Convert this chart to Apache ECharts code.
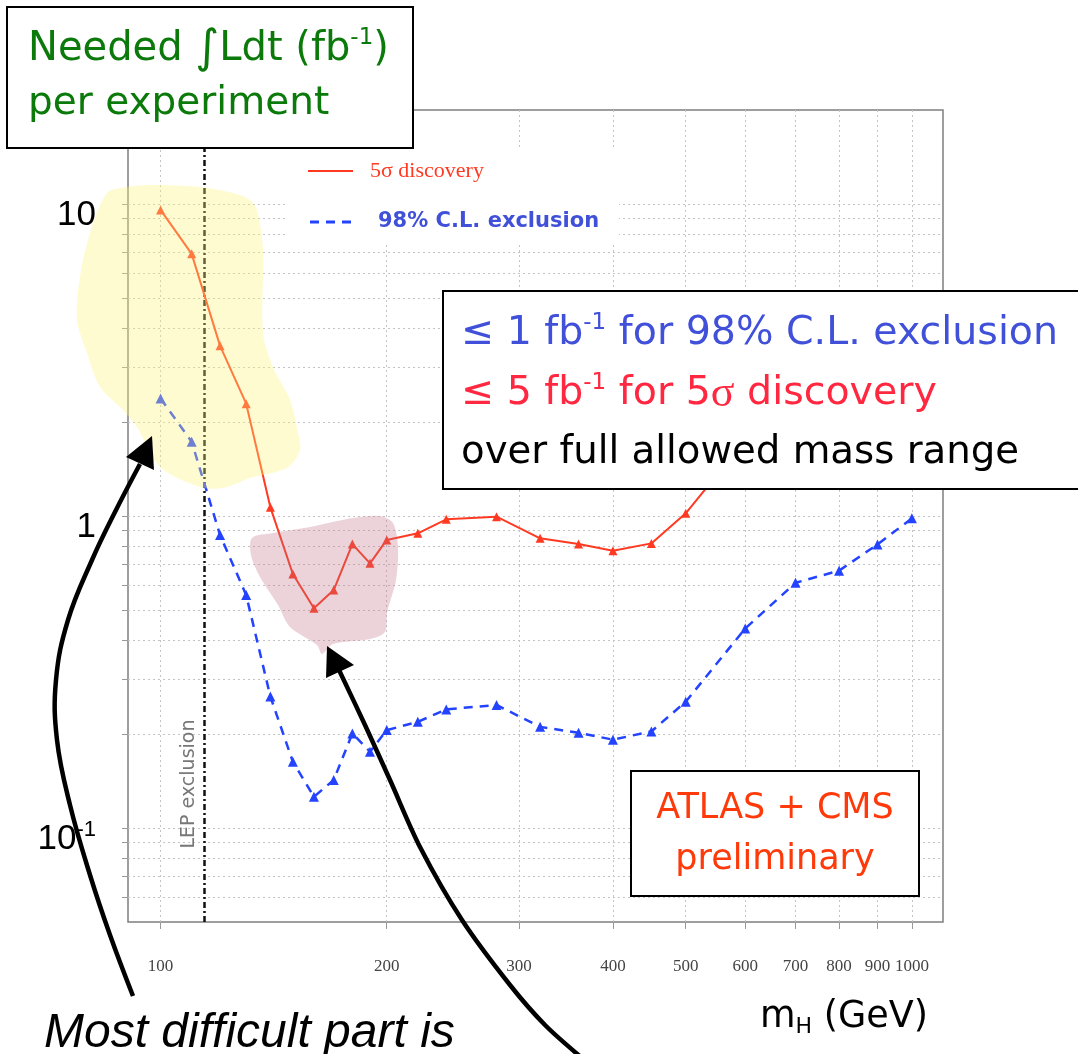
<!DOCTYPE html>
<html>
<head>
<meta charset="utf-8">
<script src="https://cdn.jsdelivr.net/npm/echarts@6/dist/echarts.min.js"></script>
<style>
  html, body { margin: 0; padding: 0; background: #fff; }
  #chart { width: 1078px; height: 1054px; }
</style>
</head>
<body>
<div id="chart"></div>
<script>
// Higgs boson mass points (GeV)
const massGeV = [100, 110, 120, 130, 140, 150, 160, 170, 180, 190, 200, 220, 240, 280, 320, 360, 400, 450, 500, 600, 700, 800, 900, 1000];
// Integrated luminosity (fb^-1) needed for a 5 sigma discovery
const discovery5Sigma = [9.57, 6.92, 3.51, 2.29, 1.066, 0.652, 0.506, 0.579, 0.813, 0.705, 0.838, 0.880, 0.976, 0.995, 0.848, 0.813, 0.774, 0.817, 1.02, 1.75, 2.4, 3.1, 3.9, 4.7];
// Integrated luminosity (fb^-1) needed for a 98% C.L. exclusion
const exclusion98CL = [2.38, 1.73, 0.869, 0.558, 0.264, 0.163, 0.126, 0.1425, 0.201, 0.1756, 0.206, 0.219, 0.240, 0.248, 0.211, 0.202, 0.192, 0.204, 0.254, 0.436, 0.611, 0.668, 0.811, 0.983];

// Axis ticks and grid
const xTickValues = [100, 200, 300, 400, 500, 600, 700, 800, 900, 1000];
const yMajorTicks = [0.1, 1, 10];
const yGridValues = [0.06, 0.07, 0.08, 0.09, 0.1, 0.2, 0.3, 0.4, 0.5, 0.6, 0.7, 0.8, 0.9, 1, 2, 3, 4, 5, 6, 7, 8, 9, 10];
const lepLimitGeV = 114.4;

const SERIES_RED = '#ff3a22';
const SERIES_BLUE = '#2343ff';
const COMIC = '"DejaVu Sans", sans-serif';

const chart = echarts.init(document.getElementById('chart'), null, { renderer: 'canvas' });

const gridLineStyle = { color: '#c4c4c4', width: 1, type: [2, 3] };
const gridLines = []
  .concat(xTickValues.map(v => ({ xAxis: v, lineStyle: gridLineStyle })))
  .concat(yGridValues.map(v => ({ yAxis: v, lineStyle: gridLineStyle })))
  .concat([{ xAxis: lepLimitGeV, lineStyle: { color: '#111', width: 2.5, type: [6, 3, 2, 3] } }]);

function yLabel(v) {
  const e = Math.round(Math.log10(v));
  if (e === 1) return '{b|10}';
  if (e === 0) return '{b|1}';
  return '{b|10}{s|-1}';
}

const option = {
  animation: false,
  backgroundColor: '#fff',
  grid: {
    left: 128, right: 135, top: 110, bottom: 132,
    show: true, borderColor: '#7f7f7f', borderWidth: 1.5
  },
  xAxis: {
    type: 'log', logBase: 10, min: 90.5, max: 1100,
    axisLine: { show: false },
    splitLine: { show: false },
    axisTick: { show: true, customValues: xTickValues, length: 7, lineStyle: { color: '#999' } },
    axisLabel: {
      customValues: xTickValues, margin: 36,
      fontFamily: '"Liberation Serif", serif', fontSize: 17, color: '#444',
      formatter: v => String(Math.round(v))
    }
  },
  yAxis: {
    type: 'log', logBase: 10, min: 0.05, max: 20,
    axisLine: { show: false },
    splitLine: { show: false },
    axisTick: { show: true, customValues: yGridValues, length: 6, lineStyle: { color: '#999' } },
    axisLabel: {
      customValues: yMajorTicks, margin: 32,
      formatter: yLabel,
      padding: [22, 0, 0, 0],
      rich: {
        b: { fontFamily: '"Liberation Sans", sans-serif', fontSize: 35, color: '#000', lineHeight: 40 },
        s: { fontFamily: '"Liberation Sans", sans-serif', fontSize: 22, color: '#000', lineHeight: 40, verticalAlign: 'top' }
      }
    }
  },
  legend: {
    left: 286, top: 148, orient: 'vertical',
    padding: [12, 20, 12, 22], itemGap: 29,
    backgroundColor: '#fff', selectedMode: false,
    itemWidth: 45, itemHeight: 3,
    data: [
      {
        name: '5σ discovery',
        icon: 'path://M0,0H45V2H0Z',
        textStyle: { fontFamily: '"Liberation Serif", serif', fontSize: 22, color: SERIES_RED, lineHeight: 22, padding: [0, 0, 0, 12] }
      },
      {
        name: '98% C.L. exclusion',
        icon: 'path://M0,0H9V3H0Z M16,0H25V3H16Z M32,0H41V3H32Z',
        textStyle: { fontFamily: COMIC, fontWeight: 'bold', fontSize: 21, color: '#4050d8', lineHeight: 22, padding: [0, 0, 0, 20] }
      }
    ]
  },
  series: [
    {
      // grid lines and the LEP exclusion limit
      type: 'line', name: 'grid', data: [], silent: true,
      markLine: {
        silent: true, z: 1, symbol: ['none', 'none'], label: { show: false },
        emphasis: { disabled: true },
        data: gridLines
      }
    },
    {
      type: 'line', name: '98% C.L. exclusion', z: 3,
      data: massGeV.map((m, i) => [m, exclusion98CL[i]]),
      color: SERIES_BLUE,
      lineStyle: { color: SERIES_BLUE, width: 2.5, type: [9, 7] },
      symbol: 'triangle', symbolSize: 10,
      itemStyle: { color: SERIES_BLUE }
    },
    {
      type: 'line', name: '5σ discovery', z: 4,
      data: massGeV.map((m, i) => [m, discovery5Sigma[i]]),
      color: SERIES_RED,
      lineStyle: { color: SERIES_RED, width: 2 },
      symbol: 'triangle', symbolSize: 9,
      itemStyle: { color: SERIES_RED }
    }
  ],
  graphic: [
    // highlighted regions
    {
      type: 'polygon', z: 10, silent: true,
      shape: {
        smooth: 0.3,
        points: [[127,187],[150,185],[200,187],[233,193],[250,200],[257,210],[263,250],[263,333],[273,367],[290,400],[298,433],[300,450],[287,468],[250,478],[223,488],[200,487],[160,467],[137,427],[123,410],[100,387],[87,353],[77,320],[80,277],[90,233],[107,193]]
      },
      style: { fill: 'rgba(255,244,120,0.35)' }
    },
    {
      type: 'polygon', z: 10, silent: true,
      shape: {
        smooth: 0.3,
        points: [[252,538],[273,533],[310,527],[353,518],[380,516],[393,523],[398,547],[396,580],[387,613],[385,632],[370,639],[333,644],[322,654],[317,645],[290,627],[278,605],[260,577],[251,555]]
      },
      style: { fill: 'rgba(190,110,130,0.3)' }
    },
    // LEP label
    {
      type: 'text', z: 12, silent: true, x: 189, y: 784, rotation: Math.PI / 2,
      style: { text: 'LEP exclusion', font: '19px "DejaVu Sans", sans-serif', fill: '#777', align: 'center', verticalAlign: 'middle' }
    },
    // arrows
    {
      type: 'polyline', z: 20, silent: true,
      shape: { smooth: 0.4, points: [[133,996],[110,935],[90,875],[70,805],[57,740],[56,680],[68,620],[92,560],[115,512],[140,464]] },
      style: { stroke: '#000', lineWidth: 4.5, fill: null }
    },
    {
      type: 'polygon', z: 20, silent: true,
      shape: { points: [[152,436],[126,457],[154,470]] },
      style: { fill: '#000' }
    },
    {
      type: 'polyline', z: 20, silent: true,
      shape: { smooth: 0.3, points: [[339,670],[365,725],[390,780],[420,847],[462,920],[510,985],[545,1025],[582,1058]] },
      style: { stroke: '#000', lineWidth: 4.5, fill: null }
    },
    {
      type: 'polygon', z: 20, silent: true,
      shape: { points: [[327,646],[326,678],[354,665]] },
      style: { fill: '#000' }
    },
    // y-axis title box
    {
      type: 'rect', z: 30, silent: true,
      shape: { x: 7, y: 7, width: 406, height: 141 },
      style: { fill: '#fff', stroke: '#000', lineWidth: 2 }
    },
    {
      type: 'text', z: 31, silent: true, x: 28, y: 50,
      style: {
        text: '{a|Needed }{i|∫}{a|Ldt (fb}{s|-1}{a|)}',
        verticalAlign: 'middle', align: 'left',
        rich: {
          a: { fontFamily: COMIC, fontSize: 40, fill: '#0b7a0b', color: '#0b7a0b', lineHeight: 46 },
          i: { fontFamily: COMIC, fontSize: 46, fill: '#0b7a0b', color: '#0b7a0b', lineHeight: 46 },
          s: { fontFamily: COMIC, fontSize: 23, fill: '#0b7a0b', color: '#0b7a0b', lineHeight: 46, verticalAlign: 'top' }
        }
      }
    },
    {
      type: 'text', z: 31, silent: true, x: 28, y: 104,
      style: { text: 'per experiment', font: '39px "DejaVu Sans", sans-serif', fill: '#0b7a0b', verticalAlign: 'middle', align: 'left' }
    },
    // summary box
    {
      type: 'rect', z: 30, silent: true,
      shape: { x: 443, y: 291, width: 700, height: 198 },
      style: { fill: '#fff', stroke: '#000', lineWidth: 2 }
    },
    {
      type: 'text', z: 31, silent: true, x: 461, y: 334,
      style: {
        text: '{a|≤ 1 fb}{s|-1}{a| for 98% C.L. exclusion}',
        verticalAlign: 'middle', align: 'left',
        rich: {
          a: { fontFamily: COMIC, fontSize: 39.5, fill: '#4050d8', color: '#4050d8', lineHeight: 44 },
          s: { fontFamily: COMIC, fontSize: 23, fill: '#4050d8', color: '#4050d8', lineHeight: 44, verticalAlign: 'top' }
        }
      }
    },
    {
      type: 'text', z: 31, silent: true, x: 461, y: 394,
      style: {
        text: '{a|≤ 5 fb}{s|-1}{a| for 5}{g|σ}{a| discovery}',
        verticalAlign: 'middle', align: 'left',
        rich: {
          a: { fontFamily: COMIC, fontSize: 39.5, fill: '#ff2840', color: '#ff2840', lineHeight: 44 },
          g: { fontFamily: '"Liberation Serif", serif', fontSize: 44, fill: '#ff2840', color: '#ff2840', lineHeight: 44 },
          s: { fontFamily: COMIC, fontSize: 23, fill: '#ff2840', color: '#ff2840', lineHeight: 44, verticalAlign: 'top' }
        }
      }
    },
    {
      type: 'text', z: 31, silent: true, x: 461, y: 453,
      style: { text: 'over full allowed mass range', font: '38.7px "DejaVu Sans", sans-serif', fill: '#000', verticalAlign: 'middle', align: 'left' }
    },
    // collaboration box
    {
      type: 'rect', z: 30, silent: true,
      shape: { x: 631, y: 771, width: 288, height: 125 },
      style: { fill: '#fff', stroke: '#000', lineWidth: 2 }
    },
    {
      type: 'text', z: 31, silent: true, x: 775, y: 809,
      style: { text: 'ATLAS + CMS', font: '35px "DejaVu Sans", sans-serif', fill: '#ff3a0a', verticalAlign: 'middle', align: 'center' }
    },
    {
      type: 'text', z: 31, silent: true, x: 775, y: 860,
      style: { text: 'preliminary', font: '35px "DejaVu Sans", sans-serif', fill: '#ff3a0a', verticalAlign: 'middle', align: 'center' }
    },
    // x-axis title
    {
      type: 'text', z: 31, silent: true, x: 760, y: 1018,
      style: {
        text: '{a|m}{h|H}{a| (GeV)}',
        verticalAlign: 'middle', align: 'left',
        rich: {
          a: { fontFamily: COMIC, fontSize: 36.5, fill: '#000', color: '#000', lineHeight: 40 },
          h: { fontFamily: COMIC, fontSize: 22, fill: '#000', color: '#000', lineHeight: 40, verticalAlign: 'bottom' }
        }
      }
    },
    // caption
    {
      type: 'text', z: 31, silent: true, x: 44, y: 1034,
      style: { text: 'Most difficult part is', font: 'italic 48px "Liberation Sans", sans-serif', fill: '#000', verticalAlign: 'middle', align: 'left' }
    }
  ]
};

chart.setOption(option);
</script>
</body>
</html>
